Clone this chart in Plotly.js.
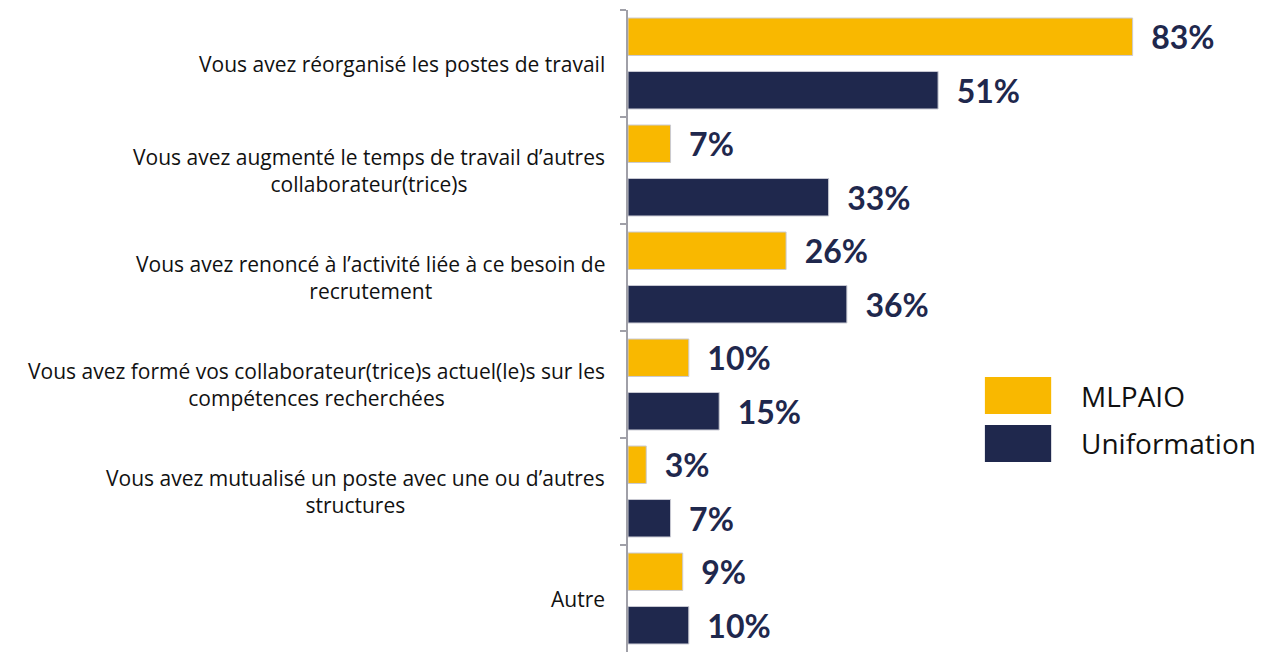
<!DOCTYPE html>
<html>
<head>
<meta charset="utf-8">
<script src="https://cdn.plot.ly/plotly-3.0.1.min.js"></script>
<style>html,body{margin:0;padding:0;background:#fff;}#chart{width:1286px;height:652px;}</style>
</head>
<body>
<div id="chart"></div>
<script>
const categories = [
  "Vous avez réorganisé les postes de travail",
  "Vous avez augmenté le temps de travail d’autres<br>collaborateur(trice)s",
  "Vous avez renoncé à l’activité liée à ce besoin de<br>recrutement",
  "Vous avez formé vos collaborateur(trice)s actuel(le)s sur les<br>compétences recherchées",
  "Vous avez mutualisé un poste avec une ou d’autres<br>structures",
  "Autre"
];
const seriesNames = ["MLPAIO", "Uniformation"];
const mlpaio = [83, 7, 26, 10, 3, 9];
const uniformation = [51, 33, 36, 15, 7, 10];

const YELLOW = "#F9B800";
const NAVY = "#1F284D";
const colors = [YELLOW, NAVY];
const values = [mlpaio, uniformation];

const traces = values.map((v, i) => ({
  type: "bar",
  orientation: "h",
  name: seriesNames[i],
  y: categories,
  x: v,
  marker: {color: colors[i], line: {color: "#c9cad3", width: 1}},
  text: v.map(d => "\u00A0\u00A0" + d + "%"),
  textposition: "outside",
  textfont: {family: "Lato, sans-serif", size: 32, color: NAVY, weight: "bold"},
  constraintext: "none",
  cliponaxis: false,
  hoverinfo: "skip",
  showlegend: false
}));

const annotations = categories.map(c => ({
  xref: "paper", yref: "y", x: 0, y: c,
  xanchor: "right", yanchor: "middle", xshift: -21,
  text: c, align: "center", showarrow: false,
  font: {family: "Open Sans, sans-serif", size: 21, color: "#111111"}
}));

// custom legend
const legendBoxes = [[0.4283, 0.3707], [0.3536, 0.2960]];
const shapes = [];
seriesNames.forEach((n, i) => {
  shapes.push({
    type: "rect", xref: "paper", yref: "paper",
    x0: 0.587, x1: 0.696, y0: legendBoxes[i][1], y1: legendBoxes[i][0],
    fillcolor: colors[i], line: {width: 0}
  });
  annotations.push({
    xref: "paper", yref: "paper", x: 0.742, y: (legendBoxes[i][0] + legendBoxes[i][1]) / 2,
    xanchor: "left", yanchor: "middle", text: n, showarrow: false,
    font: {family: "Open Sans, sans-serif", size: 28, color: "#111111"}
  });
});

const layout = {
  width: 1286, height: 652,
  margin: {l: 628, r: 50, t: 10, b: 0},
  paper_bgcolor: "#ffffff", plot_bgcolor: "#ffffff",
  barmode: "group", bargap: 0, bargroupgap: 0.3,
  xaxis: {range: [0, 100], visible: false, fixedrange: true},
  yaxis: {
    type: "category", autorange: "reversed",
    showticklabels: false, showgrid: false, zeroline: false,
    showline: true, linecolor: "#a0a0a8", linewidth: 2,
    ticks: "outside", ticklen: 6, tickwidth: 2, tickcolor: "#a0a0a8",
    tickson: "boundaries", fixedrange: true
  },
  shapes: shapes,
  annotations: annotations,
  showlegend: false
};

Plotly.newPlot("chart", traces, layout, {displayModeBar: false, staticPlot: true});
</script>
</body>
</html>
